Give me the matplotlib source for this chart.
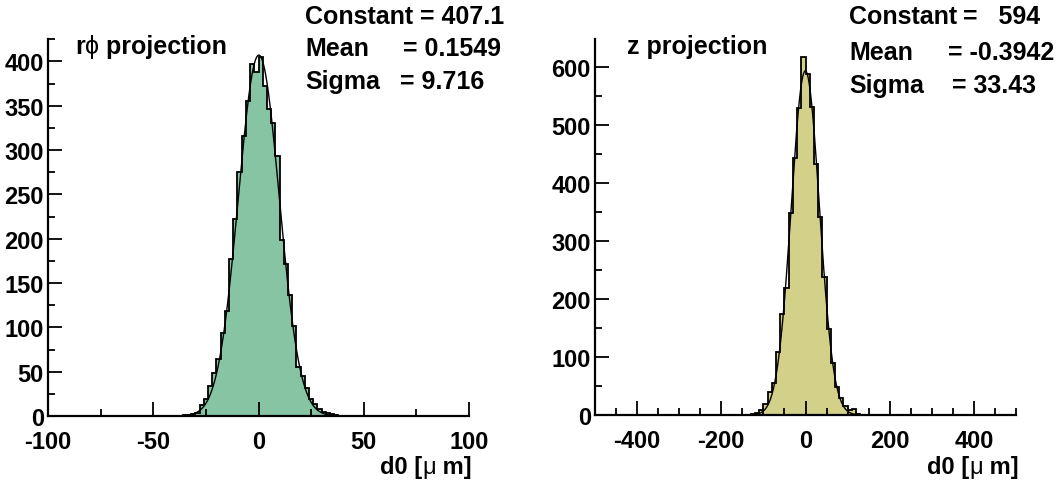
import numpy as np
import matplotlib.pyplot as plt
from matplotlib.ticker import MultipleLocator

plt.rcParams['font.family'] = ['Liberation Sans', 'DejaVu Sans']
plt.rcParams['font.weight'] = 'bold'
plt.rcParams['axes.unicode_minus'] = False

W, H = 1058, 485

# r-phi projection: 2 um bins over [-100, 100], non-empty bins only (lower edge)
rphi_lo = list(range(-36, 38, 2))
rphi_counts = [1, 1, 2, 3, 12, 19, 34, 49, 64, 94, 119, 177, 222, 275, 316,
               355, 397, 388, 405, 372, 346, 331, 293, 199, 171, 136, 102,
               55, 45, 32, 19, 13, 8, 5, 3, 2, 1]
rphi_fit = (407.1, 0.1549, 9.716)   # constant, mean, sigma

# z projection: 10 um bins over [-500, 500]
z_lo = list(range(-130, 130, 10))
z_counts = [2, 3, 8, 19, 39, 56, 108, 174, 219, 348, 443, 529, 618, 589,
            531, 434, 342, 239, 148, 90, 48, 30, 16, 8, 10, 1]
z_fit = (594, -0.3942, 33.43)

fig = plt.figure(figsize=(W / 100, H / 100), dpi=100)


def px(x, y):
    # pixel position -> figure fraction
    return x / W, 1 - y / H


def chained(x, y, parts, size):
    # text pieces one after another (bold text, thin greek letters)
    t = fig.text(*px(x, y), parts[0][0], fontsize=size, fontweight=parts[0][1],
                 va='center', ha='left')
    last = t
    for txt, weight in parts[1:]:
        last = fig.axes[0].annotate(txt, xy=(1, 0), xycoords=last,
                                    fontsize=size, fontweight=weight,
                                    va='bottom', ha='left',
                                    annotation_clip=False)
    return t


def panel(rect, lo, counts, width, xlim, fit, color, xmaj, xmin, ymaj, ymin):
    ax = fig.add_axes(rect)
    edges = np.arange(xlim[0], xlim[1] + width, width)
    full = np.zeros(len(edges) - 1)
    idx = ((np.array(lo) - xlim[0]) // width).astype(int)
    full[idx] = counts
    ax.stairs(full, edges, fill=True, color=color, lw=0)
    ax.stairs(full, edges, color='black', lw=1.3, baseline=None)

    # gaussian fit with the quoted parameters
    c, mu, s = fit
    xf = np.linspace(mu - 4 * s, mu + 4 * s, 400)
    ax.plot(xf, c * np.exp(-0.5 * ((xf - mu) / s) ** 2), color='black', lw=1)

    ax.set_xlim(*xlim)
    ax.set_ylim(0, 1.05 * max(counts))
    ax.xaxis.set_major_locator(MultipleLocator(xmaj))
    ax.xaxis.set_minor_locator(MultipleLocator(xmin))
    ax.yaxis.set_major_locator(MultipleLocator(ymaj))
    ax.yaxis.set_minor_locator(MultipleLocator(ymin))
    for side in ['top', 'right']:
        ax.spines[side].set_visible(False)
    for side in ['left', 'bottom']:
        ax.spines[side].set_linewidth(1.6)
    ax.tick_params(which='both', direction='in', width=1.3, labelsize=17)
    ax.tick_params(which='major', length=10)
    ax.tick_params(which='minor', length=5)
    ax.tick_params(axis='x', pad=10)
    ax.tick_params(axis='y', pad=3)
    return ax


ax1 = panel([48 / W, 1 - 417 / H, 421 / W, 377 / H], rphi_lo, rphi_counts, 2,
            (-100, 100), rphi_fit, '#86c4a4', 50, 25, 50, 25)
ax2 = panel([595 / W, 1 - 416 / H, 421 / W, 376 / H], z_lo, z_counts, 10,
            (-500, 500), z_fit, '#d3d08a', 200, 50, 100, 50)

# titles
chained(75, 47, [('r', 'bold'), ('ϕ', 'normal'), (' projection', 'bold')], 18)
chained(627, 47, [('z projection', 'bold')], 18)

# axis labels
for xr in (380, 927):
    chained(xr, 468, [('d0 [', 'bold'), ('μ', 'normal'), (' m]', 'bold')], 17)

# fit results
stats = [
    (305, 420, 17, 'Constant', '= 407.1'),
    (305, 403, 49, 'Mean', '= 0.1549'),
    (305, 400, 82, 'Sigma', '= 9.716'),
    (849, 963, 17, 'Constant', '=   594'),
    (849, 948, 53, 'Mean', '= -0.3942'),
    (849, 952, 86, 'Sigma', '= 33.43'),
]
for xl, xv, y, name, val in stats:
    fig.text(*px(xl, y), name, fontsize=18, va='center', ha='left')
    fig.text(*px(xv, y), val, fontsize=18, va='center', ha='left')

fig.savefig('out.png', dpi=100)
